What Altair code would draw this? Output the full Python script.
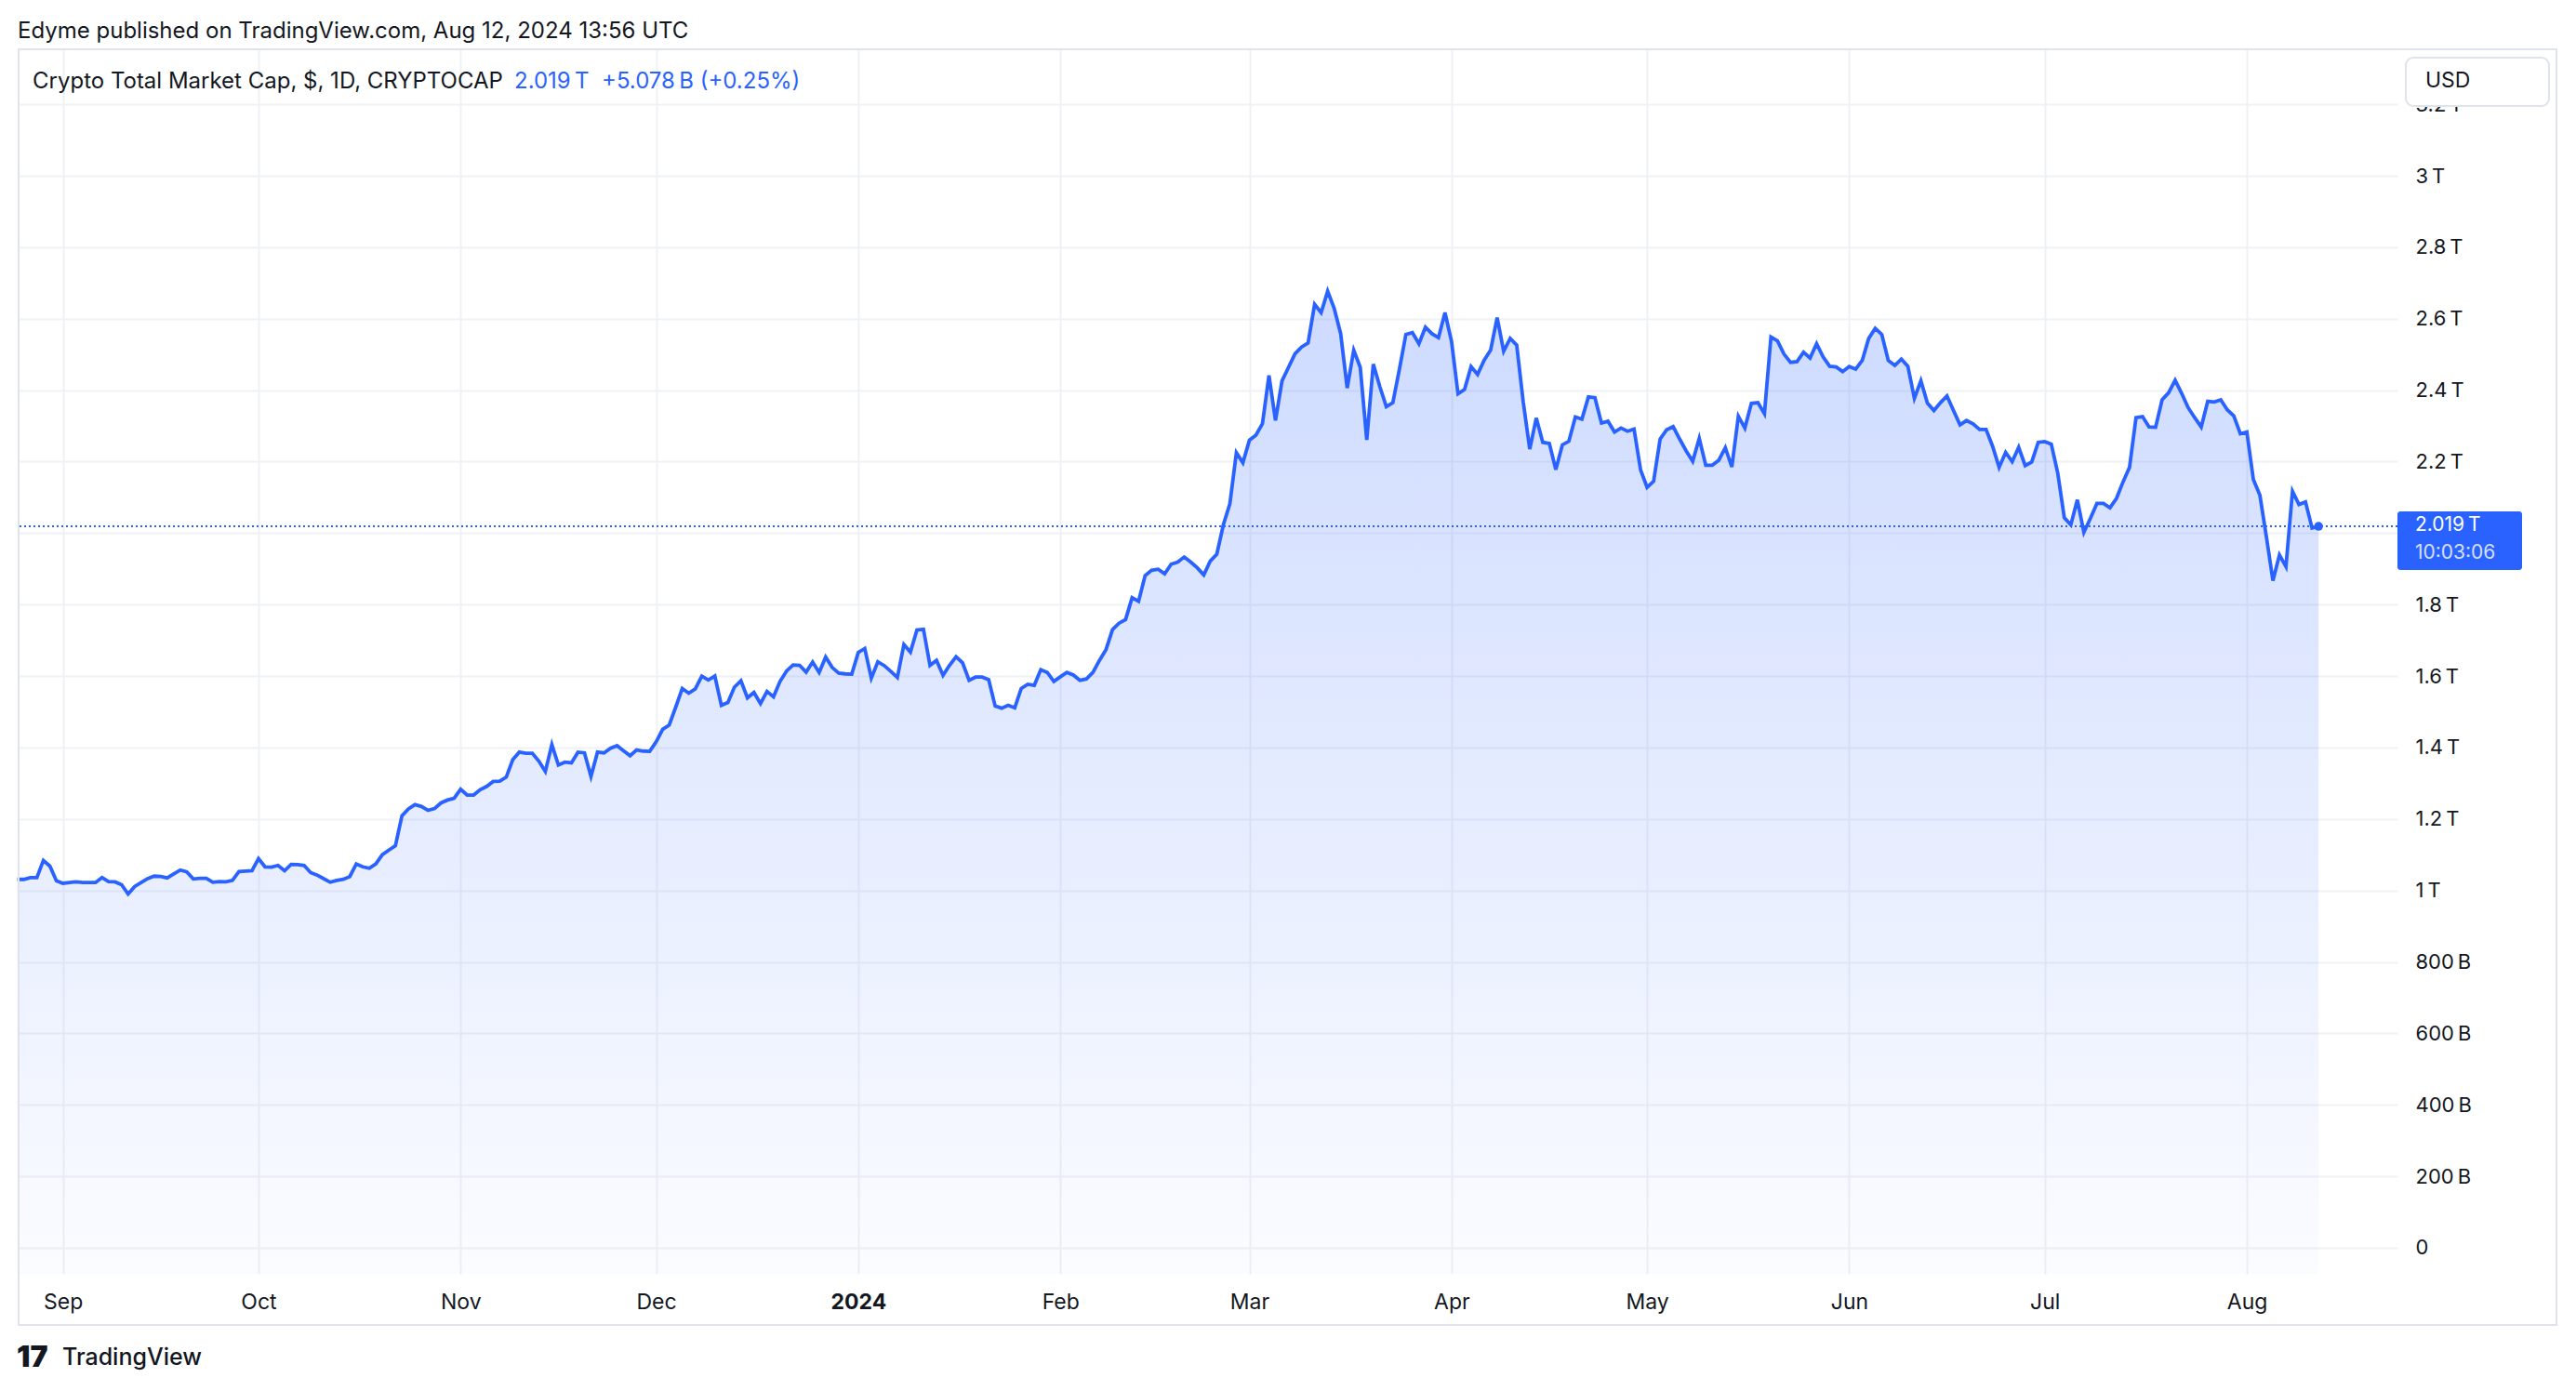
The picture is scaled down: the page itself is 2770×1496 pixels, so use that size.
import altair as alt
import pandas as pd

# ---- data: daily total crypto market cap, in trillions USD ----
aug_2023 = [1.031, 1.031, 1.036, 1.036, 1.084, 1.068, 1.027]
sep_2023 = [1.020, 1.022, 1.024, 1.022, 1.022, 1.022, 1.036, 1.025, 1.024, 1.016,
            0.990, 1.011, 1.022, 1.033, 1.040, 1.039, 1.035, 1.046, 1.057, 1.052,
            1.032, 1.034, 1.034, 1.023, 1.025, 1.024, 1.028, 1.053, 1.054, 1.055]
oct_2023 = [1.089, 1.066, 1.065, 1.070, 1.055, 1.073, 1.072, 1.070, 1.050, 1.043,
            1.033, 1.023, 1.028, 1.031, 1.039, 1.074, 1.066, 1.062, 1.074, 1.100,
            1.113, 1.125, 1.209, 1.228, 1.240, 1.235, 1.224, 1.229, 1.245, 1.253,
            1.258]
nov_2023 = [1.283, 1.267, 1.267, 1.282, 1.291, 1.305, 1.306, 1.317, 1.366, 1.387,
            1.384, 1.384, 1.362, 1.333, 1.408, 1.351, 1.359, 1.357, 1.387, 1.385,
            1.319, 1.387, 1.385, 1.398, 1.405, 1.391, 1.377, 1.393, 1.390, 1.389]
dec_2023 = [1.416, 1.451, 1.463, 1.513, 1.565, 1.552, 1.564, 1.600, 1.589, 1.600,
            1.518, 1.526, 1.569, 1.587, 1.539, 1.554, 1.523, 1.557, 1.542, 1.585,
            1.614, 1.631, 1.630, 1.611, 1.639, 1.610, 1.653, 1.624, 1.608, 1.606,
            1.605]
jan_2024 = [1.666, 1.677, 1.594, 1.640, 1.629, 1.613, 1.596, 1.688, 1.667, 1.729,
            1.731, 1.630, 1.644, 1.602, 1.630, 1.654, 1.637, 1.588, 1.597, 1.597,
            1.590, 1.516, 1.510, 1.518, 1.511, 1.565, 1.577, 1.574, 1.618, 1.610,
            1.585]
feb_2024 = [1.598, 1.610, 1.603, 1.588, 1.592, 1.610, 1.644, 1.674, 1.730, 1.748,
            1.758, 1.819, 1.809, 1.881, 1.896, 1.899, 1.886, 1.913, 1.919, 1.933,
            1.919, 1.903, 1.883, 1.922, 1.941, 2.023, 2.082, 2.225, 2.197]
mar_2024 = [2.260, 2.274, 2.306, 2.441, 2.315, 2.426, 2.464, 2.502, 2.521, 2.532,
            2.640, 2.617, 2.677, 2.629, 2.558, 2.406, 2.512, 2.464, 2.261, 2.473,
            2.410, 2.354, 2.365, 2.458, 2.556, 2.561, 2.530, 2.576, 2.558, 2.547,
            2.617]
apr_2024 = [2.537, 2.390, 2.402, 2.466, 2.444, 2.484, 2.512, 2.603, 2.509, 2.545,
            2.526, 2.367, 2.235, 2.322, 2.254, 2.251, 2.178, 2.247, 2.257, 2.325,
            2.319, 2.381, 2.379, 2.308, 2.313, 2.283, 2.294, 2.285, 2.291, 2.177]
may_2024 = [2.128, 2.145, 2.263, 2.289, 2.298, 2.263, 2.230, 2.201, 2.265, 2.190,
            2.190, 2.204, 2.239, 2.185, 2.327, 2.294, 2.363, 2.365, 2.334, 2.549,
            2.538, 2.501, 2.478, 2.480, 2.506, 2.490, 2.530, 2.493, 2.467, 2.465,
            2.452]
jun_2024 = [2.466, 2.459, 2.483, 2.545, 2.573, 2.556, 2.483, 2.469, 2.487, 2.467,
            2.377, 2.426, 2.364, 2.343, 2.365, 2.384, 2.343, 2.303, 2.315, 2.306,
            2.290, 2.290, 2.243, 2.184, 2.226, 2.200, 2.240, 2.189, 2.199, 2.254]
jul_2024 = [2.256, 2.249, 2.167, 2.043, 2.023, 2.093, 2.002, 2.041, 2.083, 2.083,
            2.071, 2.097, 2.143, 2.184, 2.323, 2.326, 2.297, 2.296, 2.373, 2.393,
            2.428, 2.391, 2.351, 2.323, 2.297, 2.369, 2.367, 2.373, 2.345, 2.328,
            2.278]
aug_2024 = [2.283, 2.150, 2.106, 1.989, 1.867, 1.939, 1.906, 2.117, 2.080, 2.087,
            2.014, 2.019]

series_starts = ["2023-08-25", "2023-09-01", "2023-10-01", "2023-11-01", "2023-12-01",
                 "2024-01-01", "2024-02-01", "2024-03-01", "2024-04-01", "2024-05-01",
                 "2024-06-01", "2024-07-01", "2024-08-01"]
series_values = [aug_2023, sep_2023, oct_2023, nov_2023, dec_2023, jan_2024, feb_2024,
                 mar_2024, apr_2024, may_2024, jun_2024, jul_2024, aug_2024]

x_tick_months = ["2023-09-01", "2023-10-01", "2023-11-01", "2023-12-01", "2024-01-01",
                 "2024-02-01", "2024-03-01", "2024-04-01", "2024-05-01", "2024-06-01",
                 "2024-07-01", "2024-08-01"]
y_ticks = [0, 0.2, 0.4, 0.6, 0.8, 1.0, 1.2, 1.4, 1.6, 1.8, 2.0, 2.2, 2.4, 2.6, 2.8, 3.0, 3.2]

header_text = "Edyme published on TradingView.com, Aug 12, 2024 13:56 UTC"
legend_name = "Crypto Total Market Cap, $, 1D, CRYPTOCAP"
legend_change = "+5.078\u2009B (+0.25%)"
clock_text = "10:03:06"

# ---- build table ----
dates, caps = [], []
for start, vals in zip(series_starts, series_values):
    for d, v in zip(pd.date_range(start, periods=len(vals), freq="D"), vals):
        dates.append(d.strftime("%Y-%m-%d"))
        caps.append(v)
df = pd.DataFrame({"date": dates, "cap": caps})
last_df = df.iloc[[-1]]
last_value = caps[-1]
last_label = f"{last_value:.3f}\u2009T"
one = pd.DataFrame({"k": [0]})

FONT = "Inter"
INK = "#131722"
BLUE = "#2962ff"
GRID = "#f0f1f4"
BORDER = "#e0e3eb"

W, H = 2558, 1317

x_scale = alt.Scale(
    type="utc",
    domain=[alt.DateTime(year=2023, month=8, date=25, hours=4, minutes=48, utc=True),
            alt.DateTime(year=2024, month=8, date=24, hours=2, minutes=24, utc=True)],
)
y_scale = alt.Scale(domain=[-0.073, 3.354], nice=False, zero=False)

x_axis = alt.Axis(
    values=[alt.DateTime(year=int(s[:4]), month=int(s[5:7]), date=1, utc=True) for s in x_tick_months],
    labelExpr="utcmonth(datum.value) == 0 ? utcFormat(datum.value, '%Y') : utcFormat(datum.value, '%b')",
    labelFontWeight={"condition": {"test": "utcmonth(datum.value) == 0", "value": "bold"}, "value": "normal"},
    grid=True, gridColor=GRID, gridWidth=2,
    domain=False, ticks=False, tickSize=0,
    labelPadding=30, labelBaseline="middle", labelAlign="center",
    labelFont=FONT, labelFontSize=23, labelColor=INK,
    labelFlush=False, labelOverlap=False, title=None,
)
y_axis = alt.Axis(
    orient="right", values=y_ticks,
    labelExpr="datum.value == 0 ? '0' : (datum.value < 0.99 ? format(datum.value * 1000, 'd') + '\u2009B' : format(datum.value, '~g') + '\u2009T')",
    grid=True, gridColor=GRID, gridWidth=2,
    domain=False, ticks=False, tickSize=0,
    labelPadding=19, labelAlign="left", labelBaseline="middle",
    labelFont=FONT, labelFontSize=22, labelColor=INK,
    labelFlush=False, labelOverlap=False, title=None,
)

X = alt.X("date:T", scale=x_scale, axis=x_axis)
Y = alt.Y("cap:Q", scale=y_scale, axis=y_axis)
Y_LAST = alt.Y(datum=last_value, scale=y_scale, axis=y_axis)

area = alt.Chart(df).mark_area(
    color=alt.Gradient(
        gradient="linear", x1=0, x2=0, y1=0, y2=1,
        stops=[alt.GradientStop(color="rgba(41,98,255,0.23)", offset=0),
               alt.GradientStop(color="rgba(41,98,255,0.02)", offset=1)],
    )
).encode(x=X, y=Y, y2=alt.datum(-0.073))

line = alt.Chart(df).mark_line(color=BLUE, strokeWidth=3.8).encode(x=X, y=Y)

price_rule = alt.Chart(one).mark_rule(color=BLUE, strokeWidth=2, strokeDash=[2, 3]).encode(y=Y_LAST)

last_dot = alt.Chart(last_df).mark_circle(size=90, color=BLUE, opacity=1).encode(x=X, y=Y)

tag_box = alt.Chart(one).mark_rect(color=BLUE, cornerRadius=3, yOffset=-16, y2Offset=47).encode(
    x=alt.value(W), x2=alt.value(W + 134), y=Y_LAST, y2=alt.datum(last_value),
)
tag_value = alt.Chart(one).mark_text(
    align="left", baseline="middle", color="white", font=FONT, fontSize=21, dy=-1
).encode(x=alt.value(W + 19), y=Y_LAST, text=alt.value(last_label))
tag_clock = alt.Chart(one).mark_text(
    align="left", baseline="middle", color="white", opacity=0.8, font=FONT, fontSize=21, dy=29
).encode(x=alt.value(W + 19), y=Y_LAST, text=alt.value(clock_text))

def label(text, x, y, size, color=INK, weight="normal"):
    return alt.Chart(one).mark_text(
        align="left", baseline="middle", font=FONT, fontSize=size, color=color, fontWeight=weight
    ).encode(x=alt.value(x), y=alt.value(y), text=alt.value(text))

header = label(header_text, -1, -19, 24)
legend_a = label(legend_name, 15, 35, 24)
legend_b = label(last_label, 533, 35, 24, BLUE)
legend_c = label(legend_change, 627, 35, 24, BLUE)

usd_box = alt.Chart(one).mark_rect(fill="white", stroke=BORDER, strokeWidth=2, cornerRadius=8).encode(
    x=alt.value(2567), x2=alt.value(2721), y=alt.value(9), y2=alt.value(61)
)
usd_text = label("USD", 2588, 34, 23)

frame = alt.Chart(one).mark_rect(fillOpacity=0, stroke=BORDER, strokeWidth=2).encode(
    x=alt.value(0), x2=alt.value(2729), y=alt.value(0), y2=alt.value(1372)
)

logo_icon = label("17", -2, 1407, 32, INK, 900)
logo_text = label("TradingView", 47, 1407, 25, INK, 500)

chart = alt.layer(
    area, line, price_rule, last_dot, tag_box, tag_value, tag_clock,
    frame, usd_box, usd_text, header, legend_a, legend_b, legend_c, logo_icon, logo_text,
).properties(
    width=W, height=H,
    autosize=alt.AutoSizeParams(type="none"),
    padding={"left": 12, "top": 45, "right": 180, "bottom": 120},
    background="white",
).configure_view(stroke=None)

chart.save("out.html", embed_options={"renderer": "svg", "actions": False})
